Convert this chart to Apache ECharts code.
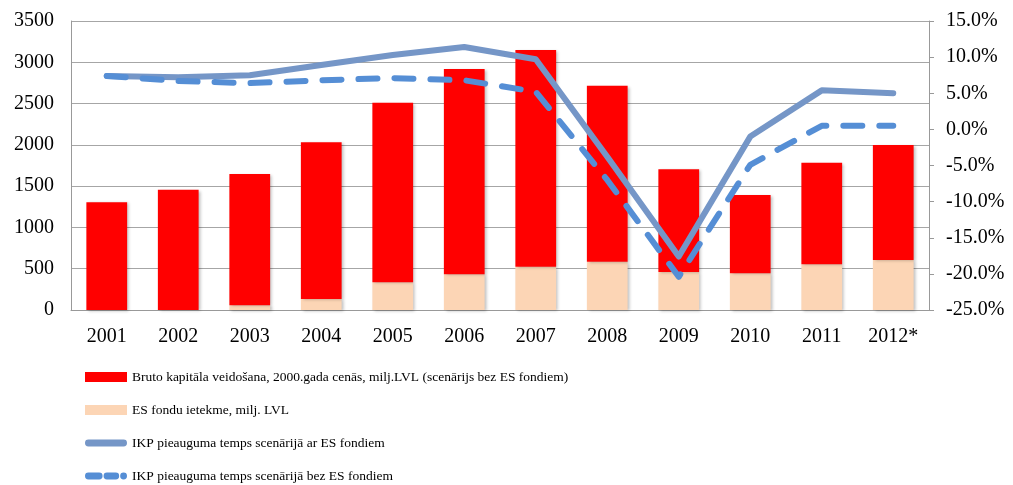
<!DOCTYPE html>
<html>
<head>
<meta charset="utf-8">
<script src="https://cdn.jsdelivr.net/npm/echarts@6/dist/echarts.min.js"></script>
<style>html,body{margin:0;padding:0;background:#fff;}#c{width:1013px;height:485px;}</style>
</head>
<body>
<div id="c"></div>
<script>
var years = ['2001','2002','2003','2004','2005','2006','2007','2008','2009','2010','2011','2012*'];
var bruto = [1304,1457,1590,1898,2175,2486,2625,2131,1244,949,1231,1393];
var esFondi = [0,0,57,133,335,432,524,585,460,444,553,605];
var ikpAr = [7.4,7.2,7.5,8.9,10.3,11.4,9.7,-3.8,-17.6,-1.0,5.4,5.0];
var ikpBez = [7.4,6.7,6.4,6.8,7.1,6.8,5.2,-7.0,-20.4,-4.9,0.5,0.5];
var leftTicks = {min:0, max:3500, interval:500};
var rightTicks = {min:-25, max:15, interval:5};

var names = [
  'Bruto kapitāla veidošana, 2000.gada cenās, milj.LVL (scenārijs bez ES fondiem)',
  'ES fondu ietekme, milj. LVL',
  'IKP pieauguma temps scenārijā ar ES fondiem',
  'IKP pieauguma temps scenārijā bez ES fondiem'
];
var font = 'Liberation Serif';
// legend icons in a 42x10 box (corner points keep the box size)
var frame = 'M0,0 L0,0 M42,10 L42,10 ';
var solidIcon = 'path://' + frame + 'M3,1.5 L39,1.5 A3.5,3.5 0 0 1 39,8.5 L3,8.5 A3.5,3.5 0 0 1 3,1.5 Z';
var dashIcon = 'path://' + frame +
  'M3,1.5 L14,1.5 A3.5,3.5 0 0 1 14,8.5 L3,8.5 A3.5,3.5 0 0 1 3,1.5 Z ' +
  'M22,1.5 L31,1.5 A3.5,3.5 0 0 1 31,8.5 L22,8.5 A3.5,3.5 0 0 1 22,1.5 Z ' +
  'M39,1.5 A3.5,3.5 0 0 1 39,8.5 A3.5,3.5 0 0 1 39,1.5 Z';

var chart = echarts.init(document.getElementById('c'));
var barShadow = {shadowBlur:3, shadowColor:'rgba(0,0,0,0.25)', shadowOffsetX:2, shadowOffsetY:1};
chart.setOption({
  animation:false,
  backgroundColor:'#fff',
  grid:{left:71, right:84, top:21, bottom:175},
  legend:{
    data:[
      {name:names[0], icon:'rect'},
      {name:names[1], icon:'rect'},
      {name:names[2], icon:solidIcon},
      {name:names[3], icon:dashIcon}
    ],
    orient:'vertical',
    left:85, top:370, height:200, padding:0,
    itemWidth:42, itemHeight:10, itemGap:19,
    textStyle:{fontFamily:font, fontSize:13.5, color:'#000'}
  },
  xAxis:{
    type:'category', data:years,
    axisLine:{lineStyle:{color:'#999', width:1}},
    axisTick:{show:false},
    axisLabel:{fontFamily:font, fontSize:20, color:'#000', margin:17}
  },
  yAxis:[
    {type:'value', min:leftTicks.min, max:leftTicks.max, interval:leftTicks.interval,
     axisLine:{show:true, lineStyle:{color:'#999'}},
     axisTick:{show:false},
     splitLine:{lineStyle:{color:'#a6a6a6'}},
     axisLabel:{fontFamily:font, fontSize:20, color:'#000', margin:17,
       formatter:function(v){return String(v);}}},
    {type:'value', min:rightTicks.min, max:rightTicks.max, interval:rightTicks.interval,
     position:'right',
     axisLine:{show:true, lineStyle:{color:'#999'}},
     axisTick:{show:true, length:5, lineStyle:{color:'#999'}},
     splitLine:{show:false},
     axisLabel:{fontFamily:font, fontSize:20, color:'#000', margin:17,
       formatter:function(v){return v.toFixed(1)+'%';}}}
  ],
  series:[
    {name:names[1], type:'bar', stack:'b', data:esFondi, barWidth:'57%',
     itemStyle:Object.assign({color:'#FCD5B5'}, barShadow)},
    {name:names[0], type:'bar', stack:'b', data:bruto, barWidth:'57%',
     itemStyle:Object.assign({color:'#FF0000'}, barShadow)},
    {name:names[2], type:'line', yAxisIndex:1, data:ikpAr, symbol:'none', z:3,
     lineStyle:{color:'#7596C7', width:6, cap:'round', join:'round'},
     itemStyle:{color:'#7596C7'}},
    {name:names[3], type:'line', yAxisIndex:1, data:ikpBez, symbol:'none', z:4,
     lineStyle:{color:'#558ED5', width:6, type:[19,17], cap:'round', join:'round'},
     itemStyle:{color:'#558ED5'}}
  ]
});
</script>
</body>
</html>
